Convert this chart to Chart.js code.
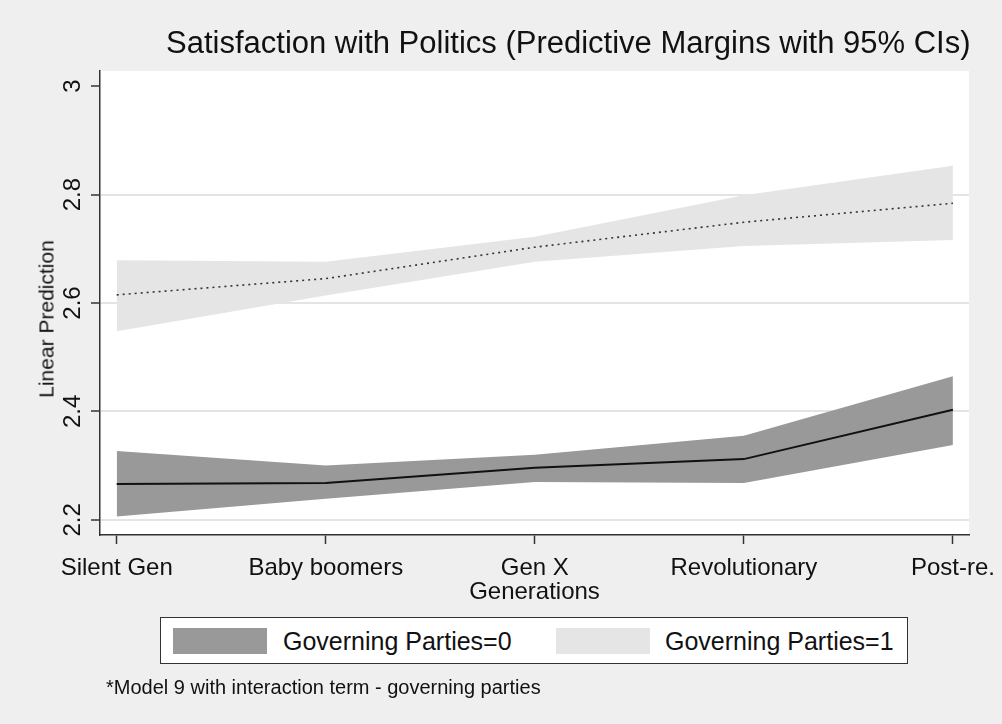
<!DOCTYPE html>
<html>
<head>
<meta charset="utf-8">
<script src="https://cdn.jsdelivr.net/npm/chart.js@4"></script>
<style>
  body { margin: 0; background: #efefef; font-family: "Liberation Sans", Arial, sans-serif; }
  #wrap { position: relative; width: 1002px; height: 724px; overflow: hidden; }
  #chart { position: absolute; left: 0; top: 0; }
  .txt { position: absolute; white-space: nowrap; line-height: 1; color: #111; }
  #legend { position: absolute; left: 160px; top: 617px; width: 746px; height: 45px;
            border: 1.5px solid #333; background: #fff; }
  .sw { position: absolute; top: 10px; width: 94px; height: 26px; }
</style>
</head>
<body>
<div id="wrap">
  <canvas id="chart" width="1002" height="724"></canvas>
  <div class="txt" id="title" style="left:166px; top:27px; font-size:31px;">Satisfaction with Politics (Predictive Margins with 95% CIs)</div>
  <div class="txt" id="ytitle" style="left:46px; top:319px; font-size:21px; transform: translate(-50%,-50%) rotate(-90deg);">Linear Prediction</div>
  <div id="legend">
    <div class="sw" style="left:12px; background:#999999;"></div>
    <div class="txt" style="left:122px; top:11px; font-size:25px;">Governing Parties=0</div>
    <div class="sw" style="left:395px; background:#e5e5e5;"></div>
    <div class="txt" style="left:504px; top:11px; font-size:25px;">Governing Parties=1</div>
  </div>
  <div class="txt" id="note" style="left:106px; top:677px; font-size:20px;">*Model 9 with interaction term - governing parties</div>
</div>
<script>
// generations on the x axis
const categories = ["Silent Gen", "Baby boomers", "Gen X", "Revolutionary", "Post-re."];
const catIndex = [0, 1, 2, 3, 4];

// Governing Parties = 0
const gov0Mean  = [2.266, 2.268, 2.296, 2.312, 2.403];
const gov0Lower = [2.206, 2.239, 2.270, 2.268, 2.338];
const gov0Upper = [2.327, 2.300, 2.320, 2.355, 2.465];

// Governing Parties = 1
const gov1Mean  = [2.615, 2.645, 2.703, 2.749, 2.784];
const gov1Lower = [2.548, 2.614, 2.676, 2.705, 2.716];
const gov1Upper = [2.679, 2.676, 2.722, 2.799, 2.853];

const yTickValues = [2.2, 2.4, 2.6, 2.8, 3];
const yTickLabels = ["2.2", "2.4", "2.6", "2.8", "3"];

const pts = arr => arr.map((v, i) => ({ x: catIndex[i], y: v }));

const plotBg = {
  id: "plotBg",
  beforeDraw(c) {
    const a = c.chartArea;
    c.ctx.save();
    c.ctx.fillStyle = "#ffffff";
    c.ctx.fillRect(a.left, a.top, a.right - a.left, a.bottom - a.top);
    c.ctx.restore();
  }
};

const band = (data, fill, color) => ({
  data: pts(data),
  borderWidth: 0,
  borderColor: "rgba(0,0,0,0)",
  backgroundColor: color,
  pointRadius: 0,
  fill: fill,
  order: 2
});

new Chart(document.getElementById("chart"), {
  type: "line",
  data: {
    datasets: [
      band(gov1Lower, false, "#e5e5e5"),
      band(gov1Upper, "-1", "#e5e5e5"),
      band(gov0Lower, false, "#999999"),
      band(gov0Upper, "-1", "#999999"),
      {
        data: pts(gov1Mean),
        borderColor: "#333",
        borderWidth: 1.6,
        borderDash: [2, 4],
        pointRadius: 0,
        fill: false,
        order: 1
      },
      {
        data: pts(gov0Mean),
        borderColor: "#111",
        borderWidth: 2,
        pointRadius: 0,
        fill: false,
        order: 0
      }
    ]
  },
  options: {
    responsive: false,
    devicePixelRatio: 1,
    animation: false,
    layout: { padding: { left: 0, top: 71, right: 33, bottom: 0 } },
    plugins: { legend: { display: false }, tooltip: { enabled: false } },
    scales: {
      x: {
        type: "linear",
        min: -0.08,
        max: 4.077,
        afterBuildTicks: s => { s.ticks = catIndex.map(v => ({ value: v })); },
        afterFit: s => { s.height = 189; s.paddingLeft = 0; s.paddingRight = 0; },
        grid: { drawOnChartArea: false, tickLength: 9, tickColor: "#333", tickWidth: 1.5 },
        border: { color: "#333", width: 1.5 },
        ticks: {
          autoSkip: false,
          maxRotation: 0,
          padding: 10,
          color: "#111",
          font: { family: "'Liberation Sans', Arial", size: 24 },
          callback: (v, i) => categories[i]
        },
        title: {
          display: true,
          text: "Generations",
          color: "#111",
          font: { family: "'Liberation Sans', Arial", size: 24 },
          padding: { top: 0, bottom: 117 }
        }
      },
      y: {
        min: 2.172,
        max: 3.028,
        afterBuildTicks: s => { s.ticks = yTickValues.map(v => ({ value: v })); },
        afterFit: s => { s.width = 100; },
        grid: {
          color: c => (c.tick && c.tick.value >= 3 ? "rgba(0,0,0,0)" : "#e4e4e4"),
          lineWidth: 2,
          tickLength: 9,
          tickColor: "#333",
          tickWidth: 1.5
        },
        border: { color: "#333", width: 1.5 },
        ticks: {
          minRotation: 90,
          maxRotation: 90,
          crossAlign: "center",
          padding: 1,
          color: "#111",
          font: { family: "'Liberation Sans', Arial", size: 24 },
          callback: (v, i) => yTickLabels[i]
        }
      }
    }
  },
  plugins: [plotBg]
});
</script>
</body>
</html>
